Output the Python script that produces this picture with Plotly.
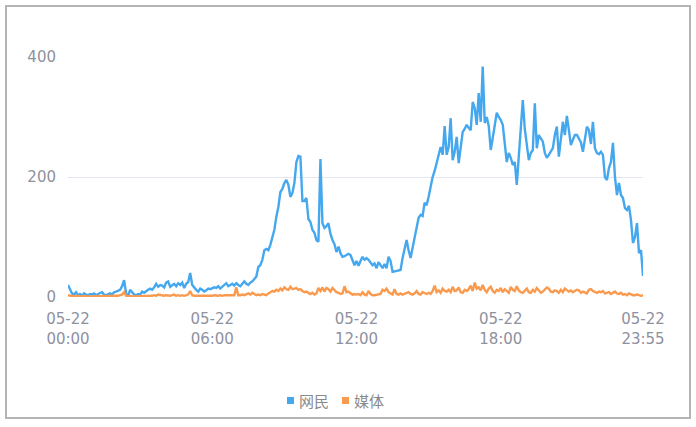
import plotly.graph_objects as go

# 5-minute categories for 05-22
times = [f"05-22 {h:02d}:{m:02d}" for h in range(24) for m in range(0, 60, 5)]
tick_idx = [0, 72, 144, 216, 287]
tick_labels = ["05-22<br>00:00", "05-22<br>06:00", "05-22<br>12:00", "05-22<br>18:00", "05-22<br>23:55"]
y_ticks = [0, 200, 400]

netizens = [
    20, 12, 6, 4, 8, 3, 5, 2, 6, 4, 3, 5,
    4, 6, 3, 5, 6, 8, 4, 3, 5, 6, 4, 8,
    9, 10, 12, 18, 28, 6, 2, 12, 8, 4, 3, 5,
    4, 9, 7, 10, 12, 14, 12, 16, 22, 17, 20, 19,
    16, 24, 26, 17, 20, 22, 18, 23, 20, 24, 15, 22,
    25, 40, 20, 15, 12, 9, 14, 12, 9, 11, 14, 13,
    14, 16, 15, 18, 14, 17, 20, 23, 18, 20, 22, 19,
    23, 20, 18, 22, 26, 22, 20, 24, 26, 30, 34, 50,
    53, 62, 78, 80, 78, 87, 98, 112, 134, 150, 175, 180,
    190, 195, 187, 167, 173, 190, 225, 235, 234, 160, 160, 165,
    130, 125, 112, 107, 95, 92, 230, 123, 115, 118, 123, 105,
    95, 88, 75, 84, 73, 67, 68, 70, 72, 70, 60, 53,
    60, 52, 60, 67, 62, 65, 62, 57, 53, 56, 48, 58,
    52, 48, 55, 48, 67, 60, 42, 43, 43, 44, 45, 65,
    82, 95, 78, 65, 82, 100, 120, 132, 137, 135, 157, 153,
    167, 184, 200, 210, 225, 240, 250, 237, 285, 237, 250, 298,
    228, 242, 267, 223, 250, 275, 280, 287, 282, 278, 325, 315,
    287, 340, 292, 384, 290, 300, 285, 245, 265, 290, 307, 300,
    295, 287, 250, 225, 240, 232, 220, 225, 187, 240, 282, 328,
    280, 250, 228, 240, 245, 323, 248, 270, 265, 259, 240, 232,
    237, 242, 248, 270, 284, 234, 259, 292, 270, 302, 278, 253,
    262, 270, 270, 265, 258, 242, 265, 284, 278, 255, 292, 248,
    240, 238, 242, 237, 200, 195, 215, 225, 257, 200, 170, 190,
    170, 165, 148, 145, 152, 128, 90, 100, 123, 73, 78, 35,
]

media = [
    3, 2, 1, 1, 2, 1, 1, 1, 2, 1, 1, 2,
    1, 2, 1, 1, 2, 1, 1, 2, 1, 1, 2, 2,
    1, 2, 3, 4, 8, 2, 1, 2, 1, 1, 1, 2,
    1, 1, 2, 1, 2, 1, 2, 3, 2, 4, 3, 2,
    2, 3, 2, 2, 3, 4, 2, 3, 2, 3, 2, 3,
    4, 10, 3, 2, 2, 1, 2, 1, 2, 2, 1, 2,
    2, 3, 2, 2, 3, 2, 3, 3, 2, 2, 3, 3,
    16, 3, 3, 4, 3, 5, 6, 4, 7, 5, 3, 4,
    3, 5, 4, 3, 6, 8, 10, 9, 12, 10, 14, 11,
    16, 13, 12, 17, 13, 14, 15, 12, 13, 10, 8, 9,
    7, 5, 7, 4, 6, 15, 10, 16, 9, 15, 13, 9,
    15, 12, 8, 7, 5, 6, 18, 8, 9, 6, 4, 5,
    4, 5, 3, 8, 4, 3, 10, 5, 3, 3, 4, 4,
    5, 12, 10, 14, 8, 6, 4, 13, 5, 4, 6, 4,
    5, 6, 8, 5, 4, 6, 10, 5, 4, 8, 6, 5,
    7, 5, 10, 19, 8, 11, 7, 14, 10, 9, 12, 8,
    17, 10, 11, 16, 8, 7, 12, 10, 13, 19, 10, 24,
    14, 16, 11, 20, 12, 8, 14, 17, 10, 7, 12, 10,
    15, 8, 13, 10, 7, 17, 12, 10, 18, 11, 8, 7,
    11, 14, 8, 7, 12, 9, 15, 10, 7, 9, 13, 16,
    14, 9, 8, 11, 10, 7, 12, 8, 14, 12, 9, 11,
    8, 10, 12, 11, 7, 9, 8, 6, 12, 13, 10, 8,
    7, 9, 8, 10, 6, 7, 8, 5, 7, 9, 6, 5,
    7, 4, 5, 3, 6, 4, 3, 3, 4, 3, 2, 3,
]

series_names = ["网民", "媒体"]
colors = ["#45a8ef", "#f99a4e"]

fig = go.Figure()
for name, vals, col in zip(series_names, [netizens, media], colors):
    fig.add_trace(go.Scatter(x=times, y=vals, mode="lines", name=name,
                             line=dict(color=col, width=2.4), showlegend=False))

W, H = 696, 427
L, R, T, B = 68, 53, 57, 130
pw, ph = W - L - R, H - T - B

def px(x):
    return (x - L) / pw

def py(y):
    return (H - B - y) / ph

tick_font = dict(family="DejaVu Sans, sans-serif", size=15, color="#8e91a0")
legend_font = dict(family="Noto Sans CJK SC, sans-serif", size=15, color="#8a8a8a")

shapes = [dict(type="rect", xref="paper", yref="paper",
               x0=px(6), x1=px(690), y0=py(418), y1=py(6),
               line=dict(color="#b4b4b4", width=2), layer="below")]
annotations = []
# legend: square marker + label for each series
legend_sq_x = [287, 342]
for name, col, sx in zip(series_names, colors, legend_sq_x):
    shapes.append(dict(type="rect", xref="paper", yref="paper",
                       x0=px(sx), x1=px(sx + 7), y0=py(404), y1=py(397),
                       fillcolor=col, line=dict(width=0)))
    annotations.append(dict(xref="paper", yref="paper", x=px(sx + 10), y=py(400),
                            xanchor="left", yanchor="middle", text=name,
                            showarrow=False, font=legend_font))

fig.update_layout(
    width=W, height=H,
    margin=dict(l=L, r=R, t=T, b=B),
    paper_bgcolor="white", plot_bgcolor="white",
    showlegend=False,
    xaxis=dict(type="category", range=[0, 287], tickmode="array",
               tickvals=[times[i] for i in tick_idx], ticktext=tick_labels,
               showgrid=False, showline=False, zeroline=False, ticks="",
               ticklabelstandoff=11, tickangle=0, tickfont=tick_font),
    yaxis=dict(range=[0, 400], tickvals=y_ticks, showgrid=True,
               gridcolor="#e3e6ef", gridwidth=1, zeroline=False, showline=False,
               ticks="", ticklabelstandoff=11, tickfont=tick_font),
    shapes=shapes,
    annotations=annotations,
)

fig.write_html("out.html", config={"displayModeBar": False},
               post_script="document.body.style.margin='0px';")
